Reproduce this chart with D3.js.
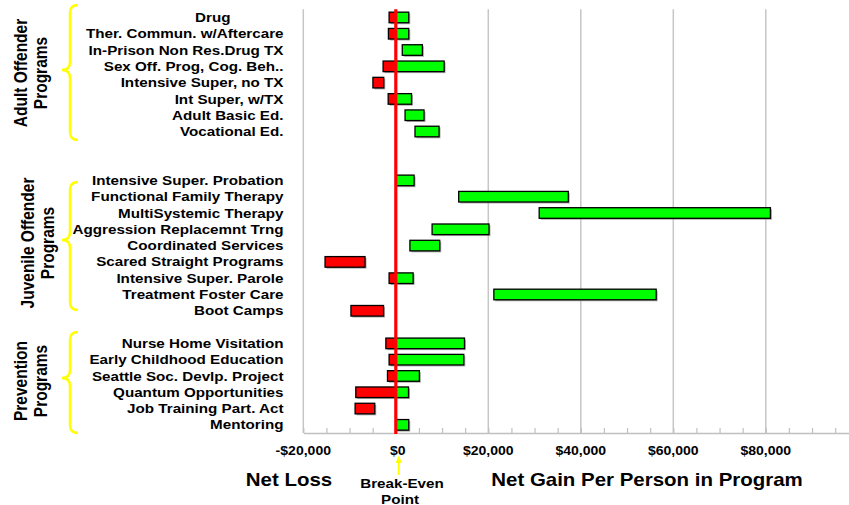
<!DOCTYPE html>
<html>
<head>
<meta charset="utf-8">
<script src="https://cdn.jsdelivr.net/npm/d3@7"></script>
<style>
  html, body { margin: 0; padding: 0; background: #ffffff; }
  svg { display: block; }
  text { font-family: "Liberation Sans", Arial, sans-serif; font-weight: bold; fill: #000; }
</style>
</head>
<body>
<svg id="chart" width="849" height="505"></svg>
<script>
// Net gain per participant: low and high estimates for each program (dollars)
const programs = [
  "Drug", "Ther. Commun. w/Aftercare", "In-Prison Non Res.Drug TX", "Sex Off. Prog, Cog. Beh..",
  "Intensive Super, no TX", "Int Super, w/TX", "Adult Basic Ed.", "Vocational Ed.",
  "Intensive Super. Probation", "Functional Family Therapy", "MultiSystemic Therapy",
  "Aggression Replacemnt Trng", "Coordinated Services", "Scared Straight Programs",
  "Intensive Super. Parole", "Treatment Foster Care", "Boot Camps",
  "Nurse Home Visitation", "Early Childhood Education ", "Seattle Soc. Devlp. Project",
  "Quantum Opportunities", "Job Training Part. Act", "Mentoring"
];
const programGroup = [0,0,0,0,0,0,0,0, 1,1,1,1,1,1,1,1,1, 2,2,2,2,2,2];
const lowValues = [
  -1450, -1600, 1400, -2750, -4950, -1650, 2000, 4150,
  0, 13600, 31000, 7850, 3050, -15300, -1450, 21200, -9700,
  -2150, -1450, -1800, -8650, -8800, 0
];
const highValues = [
  2800, 2800, 5750, 10450, -2600, 3400, 6100, 9350,
  3950, 37300, 81000, 20150, 9500, -6650, 3750, 56300, -2650,
  14850, 14700, 5100, 2750, -4550, 2800
];
const groupLabels = [
  ["Adult Offender", "Programs"],
  ["Juvenile Offender", "Programs"],
  ["Prevention", "Programs"]
];
const gridValues = [-20000, 20000, 40000, 60000, 80000];
const tickLabels = [-20000, 0, 20000, 40000, 60000, 80000];

const svg = d3.select("#chart");
const W = 849, H = 505;
const STRETCH = 1.17;          // text is set slightly wide
const plotTop = 9.3, plotBottom = 433;

// Row slots: programs plus spacer rows between groups
const spacersAfter = [2, 1, 0];
const rows = [];
programs.forEach((p, i) => {
  rows.push("p" + i);
  const g = programGroup[i];
  if (i === programs.length - 1 || programGroup[i + 1] !== g) {
    for (let s = 0; s < spacersAfter[g]; s++) rows.push("gap" + g + "_" + s);
  }
});

const x = d3.scaleLinear().domain([-20000, 100000]).range([303.3, 303.3 + 120000 * 0.004625]);
const y = d3.scalePoint().domain(rows).range([plotTop, plotBottom]).padding(0.5);
const barH = y.step() * 0.65;

function wideText(parent, px, py, str, size, anchor) {
  return parent.append("text")
    .attr("transform", `translate(${px},${py}) scale(${STRETCH},1)`)
    .attr("text-anchor", anchor || "middle")
    .style("font-size", size + "px")
    .text(str);
}

// Grid
svg.append("g").selectAll("line").data(gridValues).join("line")
  .attr("x1", d => x(d)).attr("x2", d => x(d))
  .attr("y1", plotTop).attr("y2", plotBottom)
  .attr("stroke", "#c6c6c6").attr("stroke-width", 1.5);

// Axis with small inward ticks every $5,000
const axis = d3.axisBottom(x)
  .tickValues(d3.range(-20000, 100001, 5000))
  .tickSizeInner(-5).tickSizeOuter(0).tickFormat("");
const axG = svg.append("g").attr("transform", `translate(0,${plotBottom})`).call(axis);
axG.select(".domain").attr("stroke", "#c0c0c0").attr("stroke-width", 1.5);
axG.selectAll(".tick line").attr("stroke", "#c0c0c0").attr("stroke-width", 1.2);

// Bars: the part below zero is red, the part above zero is green
const segs = [];
programs.forEach((p, i) => {
  const lo = lowValues[i], hi = highValues[i];
  if (lo < 0) segs.push({ row: "p" + i, a: lo, b: Math.min(hi, 0), color: "#ff0000" });
  if (hi > 0) segs.push({ row: "p" + i, a: Math.max(lo, 0), b: hi, color: "#00ff00" });
});
const barG = svg.append("g");
barG.selectAll("rect.shadow").data(segs).join("rect").attr("class", "shadow")
  .attr("x", d => x(d.a) + 1.5).attr("y", d => y(d.row) - barH / 2 + 1.5)
  .attr("width", d => x(d.b) - x(d.a)).attr("height", barH)
  .attr("fill", "#8c8c8c").attr("opacity", 0.7);
barG.selectAll("rect.bar").data(segs).join("rect").attr("class", "bar")
  .attr("x", d => x(d.a)).attr("y", d => y(d.row) - barH / 2)
  .attr("width", d => x(d.b) - x(d.a)).attr("height", barH)
  .attr("fill", d => d.color).attr("stroke", "#000").attr("stroke-width", 1.3);

// Break-even line
svg.append("line")
  .attr("x1", x(0)).attr("x2", x(0)).attr("y1", plotTop).attr("y2", plotBottom + 1)
  .attr("stroke", "#ff0000").attr("stroke-width", 3.2);

// Program labels
const labelShift = { "Drug": -53, "Early Childhood Education ": 0 };
const labelG = svg.append("g");
programs.forEach((p, i) => {
  wideText(labelG, 283.5 + (labelShift[p] || 0), y("p" + i) + 4.6, p.trim(), 13, "end");
});

// Group labels and braces
const groupMid = [73, 243, 381];
const groupLineX = [[26.5, 47], [33.5, 54], [26.5, 47]];
const braceSpans = [[5, 140], [182, 310], [332, 433]];
groupLabels.forEach((lines, g) => {
  lines.forEach((ln, k) => {
    svg.append("text")
      .attr("transform", `translate(${groupLineX[g][k]},${groupMid[g]}) scale(${STRETCH},1) rotate(-90)`)
      .attr("text-anchor", "middle")
      .style("font-size", "15.5px")
      .text(ln);
  });
  const [t, b] = braceSpans[g];
  const m = groupMid[g] - 3, bx = 62, w = 16, r = 8;
  const path = `M${bx + w},${t} Q${bx + w / 2},${t} ${bx + w / 2},${t + r} L${bx + w / 2},${m - r}
    Q${bx + w / 2},${m} ${bx},${m} Q${bx + w / 2},${m} ${bx + w / 2},${m + r}
    L${bx + w / 2},${b - r} Q${bx + w / 2},${b} ${bx + w},${b}`;
  svg.append("path").attr("d", path).attr("fill", "none")
    .attr("stroke", "#ffff00").attr("stroke-width", 2.5);
});

// Tick labels
const money = d3.format(",");
tickLabels.forEach(v => {
  wideText(svg, x(v) + (v === 0 ? 2 : 0), 454.5, (v < 0 ? "-$" : "$") + money(Math.abs(v)), 12);
});

// Break-even marker
const ax0 = x(0) + 3;
svg.append("line").attr("x1", ax0).attr("x2", ax0).attr("y1", 462).attr("y2", 475)
  .attr("stroke", "#ffff00").attr("stroke-width", 2);
svg.append("path").attr("d", `M${ax0},455.5 L${ax0 - 3.2},463 L${ax0 + 3.2},463 Z`).attr("fill", "#ffff00");
wideText(svg, 402, 488, "Break-Even", 13);
wideText(svg, 400, 503.5, "Point", 13);

// Axis titles
wideText(svg, 289, 486, "Net Loss", 17.5);
wideText(svg, 647, 486, "Net Gain Per Person in Program", 17.5);
</script>
</body>
</html>
